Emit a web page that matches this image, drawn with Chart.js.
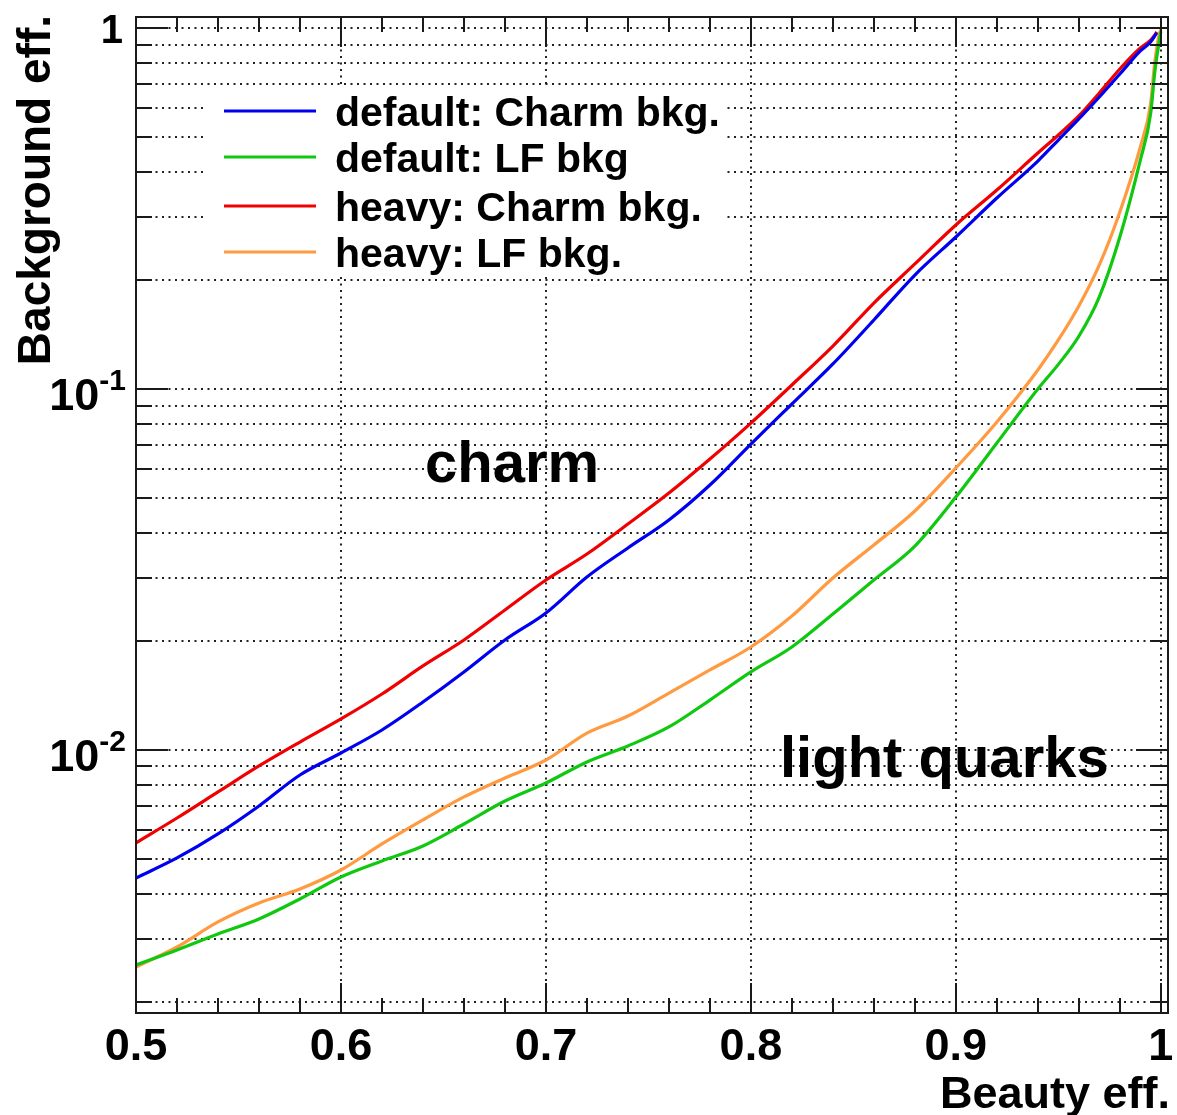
<!DOCTYPE html>
<html><head><meta charset="utf-8">
<script src="https://cdn.jsdelivr.net/npm/chart.js@4.4.1/dist/chart.umd.min.js"></script>
<style>html,body{margin:0;padding:0;background:#fff}#wrap{width:1177px;height:1115px;position:relative}</style>
</head><body><div id="wrap"><canvas id="c"></canvas></div>
<script>
// ---- data ----
const beautyEff = [0.50,0.52,0.54,0.56,0.58,0.60,0.62,0.64,0.66,0.68,0.70,0.72,0.74,0.76,0.78,0.80,0.82,0.84,0.86,0.88,0.90,0.92,0.94,
  0.95,0.96,0.97,0.98,0.99,0.995,0.997,0.998,0.999,1.0];
const defaultCharm = [0.004419,0.005022,0.005853,0.006997,0.008525,0.009810,0.01136,0.01358,0.01645,0.02017,0.02396,0.03014,0.03627,0.04337,0.05420,0.07040,0.09087,0.1173,0.1553,0.2069,0.2637,0.3381,0.4280,
  0.4894,0.5598,0.644,0.7457,0.8636,0.915,0.950,0.969,null,null];
const defaultLF = [0.002538,0.002793,0.003093,0.003403,0.003866,0.004447,0.004926,0.005422,0.006237,0.007221,0.008101,0.009264,0.01026,0.01158,0.01375,0.01645,0.01929,0.02380,0.02957,0.03673,0.05020,0.07087,0.1000,
  0.1170,0.1400,0.1800,0.2637,0.4308,0.5777,0.750,0.83,0.90,0.98];
const heavyCharm = [0.00553,0.00648,0.00765,0.00903,0.01052,0.01219,0.01429,0.01709,0.02017,0.02442,0.02957,0.03490,0.04227,0.05150,0.06399,0.08046,0.1026,0.1315,0.1730,0.2220,0.2847,0.3557,0.4505,
  0.5054,0.5706,0.6606,0.7699,0.880,0.926,0.955,0.975,null,null];
const heavyLF = [0.002506,0.002846,0.003339,0.003768,0.004121,0.004651,0.005490,0.006400,0.007411,0.008366,0.009382,0.01114,0.01242,0.01438,0.01666,0.01929,0.02350,0.02995,0.03697,0.04592,0.06042,0.08101,0.1129,
  0.1367,0.1698,0.2206,0.3093,0.4681,0.616,0.80,0.88,0.95,0.99];
const seriesLabels = ['default: Charm bkg.','default: LF bkg','heavy: Charm bkg.','heavy: LF bkg.'];
const seriesColors = ['#0000f0','#10c810','#f00000','#ff9a40'];
const xTickValues = [0.5,0.6,0.7,0.8,0.9,1.0];
const xTickLabels = ['0.5','0.6','0.7','0.8','0.9','1'];
const yMajorValues = [1,0.1,0.01];
const yTickBase = ['1','10','10'];
const yTickExp = ['','-1','-2'];
const xTitle = 'Beauty eff.';
const yTitle = 'Background eff.';
const annotationTexts = ['charm','light quarks'];

const FONT = '"Liberation Sans", Arial, Helvetica, sans-serif';
const allSeries = [defaultCharm, defaultLF, heavyCharm, heavyLF];

const datasets = allSeries.map((vals, i) => ({
  label: seriesLabels[i],
  data: beautyEff.map((x, j) => ({x: x, y: vals[j]})),
  borderColor: seriesColors[i],
  backgroundColor: seriesColors[i],
  borderWidth: 3.2,
  pointRadius: 0,
  fill: false,
  cubicInterpolationMode: 'monotone',
  spanGaps: false
}));

const rootStyle = {
  id: 'rootStyle',
  beforeDatasetsDraw(chart) {
    const {ctx, chartArea: a, scales: {x, y}} = chart;
    ctx.save();
    // dotted grid
    ctx.strokeStyle = '#222';
    ctx.lineWidth = 2;
    ctx.setLineDash([2, 4.5]);
    for (let e = -3; e <= 0; e++) {
      for (let m = 1; m <= 9; m++) {
        const v = m * Math.pow(10, e);
        if (v < y.min || v > y.max) continue;
        const py = Math.round(y.getPixelForValue(v));
        ctx.beginPath(); ctx.moveTo(a.left, py); ctx.lineTo(a.right, py); ctx.stroke();
      }
    }
    xTickValues.forEach(v => {
      const px = Math.round(x.getPixelForValue(v));
      ctx.beginPath(); ctx.moveTo(px, a.top); ctx.lineTo(px, a.bottom); ctx.stroke();
    });
    ctx.setLineDash([]);
    // legend (white box, no border)
    ctx.fillStyle = '#fff';
    ctx.fillRect(205, 87, 518, 188);
    const legY = [111, 157, 206, 252];
    ctx.font = 'bold 41px ' + FONT;
    ctx.textAlign = 'left';
    ctx.textBaseline = 'alphabetic';
    seriesLabels.forEach((lab, i) => {
      ctx.strokeStyle = seriesColors[i];
      ctx.lineWidth = 3.2;
      ctx.beginPath(); ctx.moveTo(224, legY[i]); ctx.lineTo(316, legY[i]); ctx.stroke();
      ctx.fillStyle = '#000';
      ctx.fillText(lab, 335, legY[i] + 15);
    });
    ctx.restore();
  },
  afterDatasetsDraw(chart) {
    const {ctx, chartArea: a, scales: {x, y}} = chart;
    ctx.save();
    ctx.strokeStyle = '#1a1a1a';
    ctx.lineWidth = 2;
    // frame
    ctx.strokeRect(a.left, a.top, a.right - a.left, a.bottom - a.top);
    // y ticks (left & right)
    for (let e = -3; e <= 0; e++) {
      for (let m = 1; m <= 9; m++) {
        const v = m * Math.pow(10, e);
        if (v < y.min || v > y.max) continue;
        const py = Math.round(y.getPixelForValue(v));
        const len = (m === 1) ? 32 : 16;
        ctx.beginPath();
        ctx.moveTo(a.left, py); ctx.lineTo(a.left + len, py);
        ctx.moveTo(a.right, py); ctx.lineTo(a.right - len, py);
        ctx.stroke();
      }
    }
    // x ticks (bottom & top), minor every 0.02
    for (let k = 0; k <= 25; k++) {
      const v = 0.5 + k * 0.02;
      const px = Math.round(x.getPixelForValue(v));
      const len = (k % 5 === 0) ? 30 : 15;
      ctx.beginPath();
      ctx.moveTo(px, a.bottom); ctx.lineTo(px, a.bottom - len);
      ctx.moveTo(px, a.top); ctx.lineTo(px, a.top + len);
      ctx.stroke();
    }
    // tick labels
    ctx.fillStyle = '#000';
    ctx.textBaseline = 'alphabetic';
    ctx.font = 'bold 45px ' + FONT;
    ctx.textAlign = 'center';
    xTickValues.forEach((v, i) => {
      ctx.fillText(xTickLabels[i], x.getPixelForValue(v), 1060);
    });
    yMajorValues.forEach((v, i) => {
      const py = y.getPixelForValue(v);
      ctx.textAlign = 'right';
      if (yTickExp[i] === '') {
        ctx.font = 'bold 40px ' + FONT;
        ctx.fillText(yTickBase[i], 123, py + 15);
      } else {
        ctx.font = 'bold 30px ' + FONT;
        const ew = ctx.measureText(yTickExp[i]).width;
        ctx.fillText(yTickExp[i], 126, py + 1);
        ctx.font = 'bold 45px ' + FONT;
        ctx.fillText(yTickBase[i], 126 - ew, py + 21);
      }
    });
    // axis titles
    ctx.font = 'bold 45px ' + FONT;
    ctx.textAlign = 'right';
    ctx.fillText(xTitle, 1170, 1108);
    ctx.save();
    ctx.translate(50, 15);
    ctx.rotate(-Math.PI / 2);
    ctx.font = 'bold 46px ' + FONT;
    ctx.textAlign = 'right';
    ctx.fillText(yTitle, 0, 0);
    ctx.restore();
    // annotations
    ctx.font = 'bold 58px ' + FONT;
    ctx.textAlign = 'left';
    ctx.fillText(annotationTexts[0], 425, 482);
    ctx.fillText(annotationTexts[1], 780, 777);
    ctx.restore();
  }
};

new Chart(document.getElementById('c'), {
  type: 'line',
  data: { datasets: datasets },
  options: {
    responsive: true,
    maintainAspectRatio: false,
    animation: false,
    layout: { padding: { left: 136, right: 9, top: 17, bottom: 102 } },
    plugins: { legend: { display: false }, tooltip: { enabled: false } },
    scales: {
      x: { type: 'linear', min: 0.5, max: 1.0035, display: false },
      y: { type: 'logarithmic', min: 0.001868, max: 1.0727, display: false }
    }
  },
  plugins: [rootStyle]
});
</script>
</body></html>
